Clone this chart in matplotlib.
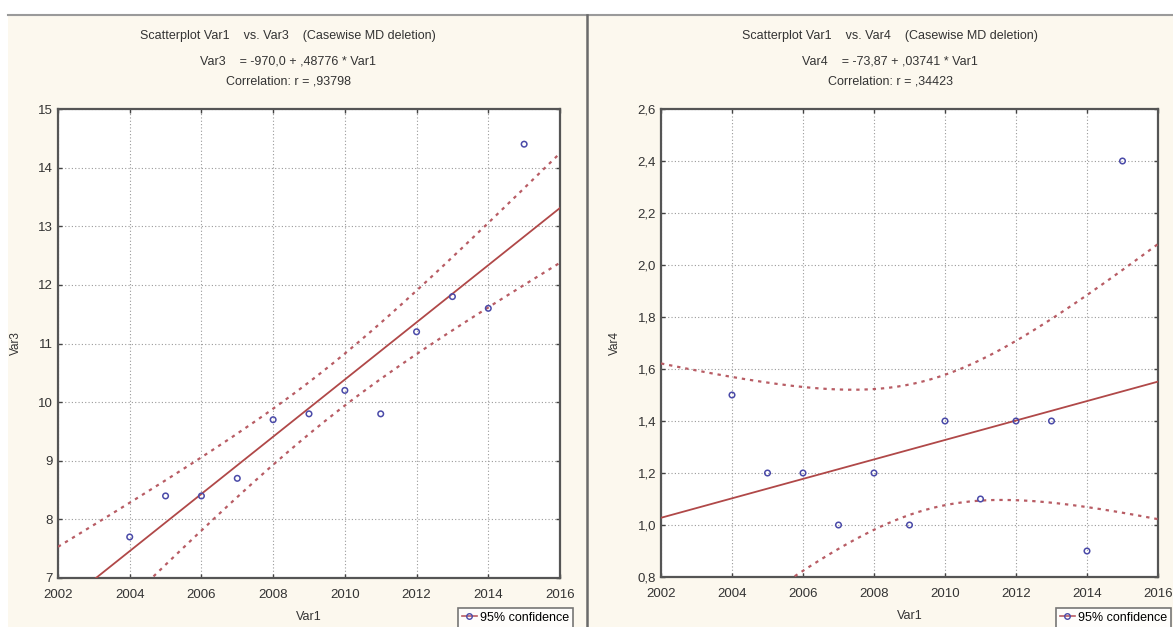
import numpy as np
import matplotlib
matplotlib.use("Agg")
import matplotlib.pyplot as plt
from matplotlib.patches import Rectangle
from matplotlib.lines import Line2D
from matplotlib.ticker import FuncFormatter

# data
years = [2004, 2005, 2006, 2007, 2008, 2009, 2010, 2011, 2012, 2013, 2014, 2015]
var3 = [7.7, 8.4, 8.4, 8.7, 9.7, 9.8, 10.2, 9.8, 11.2, 11.8, 11.6, 14.4]
var4 = [1.5, 1.2, 1.2, 1.0, 1.2, 1.0, 1.4, 1.1, 1.4, 1.4, 0.9, 2.4]

titles_left = ["Scatterplot Var1    vs. Var3    (Casewise MD deletion)",
               "Var3    = -970,0 + ,48776 * Var1",
               "Correlation: r = ,93798"]
titles_right = ["Scatterplot Var1    vs. Var4    (Casewise MD deletion)",
                "Var4    = -73,87 + ,03741 * Var1",
                "Correlation: r = ,34423"]

x_ticks = [2002, 2004, 2006, 2008, 2010, 2012, 2014, 2016]
y3_ticks = [7, 8, 9, 10, 11, 12, 13, 14, 15]
y4_ticks = [0.8, 1.0, 1.2, 1.4, 1.6, 1.8, 2.0, 2.2, 2.4, 2.6]

T_CRIT = 2.228  # t(0.975, df=10)

plt.rcParams['font.family'] = ['Liberation Sans', 'DejaVu Sans']

W, H = 1173, 627
fig = plt.figure(figsize=(W / 100, H / 100), dpi=100)
fig.patch.set_facecolor('white')

# cream background panel and frame lines
fig.patches.append(Rectangle((8 / W, 0), 1 - 8 / W, 1 - 15 / H, transform=fig.transFigure,
                             facecolor='#fcf8ee', edgecolor='none', zorder=-5))
fig.add_artist(Line2D([8 / W, 1], [1 - 15 / H, 1 - 15 / H], color='#9a9a9a', lw=1.5))
fig.add_artist(Line2D([587 / W, 587 / W], [0, 1 - 15 / H], color='#6a6a6a', lw=1.8))


def px_rect(x0, y0, x1, y1):
    return [x0 / W, 1 - y1 / H, (x1 - x0) / W, (y1 - y0) / H]


def comma(v, pos):
    return f"{v:.1f}".replace('.', ',')


def draw_panel(rect, y, yticks, ylim, ylabel, titles, title_x, legend_x, fmt=None):
    ax = fig.add_axes(rect)
    ax.set_facecolor('white')
    x = np.array(years, dtype=float)
    yv = np.array(y, dtype=float)

    slope, icpt = np.polyfit(x, yv, 1)
    n = len(x)
    resid = yv - (icpt + slope * x)
    s = np.sqrt(np.sum(resid ** 2) / (n - 2))
    sxx = np.sum((x - x.mean()) ** 2)
    xs = np.linspace(2002, 2016, 200)
    fit = icpt + slope * xs
    half = T_CRIT * s * np.sqrt(1 / n + (xs - x.mean()) ** 2 / sxx)

    band_col = '#b85c64'
    ax.plot(xs, fit + half, color=band_col, lw=1.6, linestyle=(0, (1.5, 2.2)), zorder=3)
    ax.plot(xs, fit - half, color=band_col, lw=1.6, linestyle=(0, (1.5, 2.2)), zorder=3)
    ax.plot(xs, fit, color='#b04848', lw=1.3, zorder=4)
    ax.scatter(x, yv, s=16, facecolors='none', edgecolors='#4a4aa8', linewidths=1.1, zorder=5)

    ax.set_xlim(2002, 2016)
    ax.set_ylim(*ylim)
    ax.set_xticks(x_ticks)
    ax.set_yticks(yticks)
    if fmt:
        ax.yaxis.set_major_formatter(FuncFormatter(fmt))
    ax.grid(True, color='#9a9a9a', linestyle=(0, (1, 2)), lw=0.8)
    ax.tick_params(direction='in', length=3, width=1, colors='#444444', labelsize=9.5,
                   labelcolor='#333333', top=True, right=True)
    ax.tick_params(axis='x', pad=8)
    for sp in ax.spines.values():
        sp.set_color('#555555')
        sp.set_linewidth(1.6)
    ax.set_xlabel('Var1', fontsize=9, color='#333333', labelpad=7)
    ax.set_ylabel(ylabel, fontsize=8.5, color='#333333', labelpad=12)

    for t, yy in zip(titles, [36, 61, 82]):
        fig.text(title_x / W, 1 - yy / H, t, ha='center', va='center', fontsize=9, color='#333333')

    h = Line2D([], [], color=band_col, marker='o', markersize=4, markerfacecolor='none',
               markeredgecolor='#4a4aa8', lw=1.2)
    leg = fig.legend([h], ['95% confidence'], loc='upper left',
                     bbox_to_anchor=(legend_x / W, 1 - 608 / H), fontsize=9,
                     frameon=True, fancybox=False, handlelength=1.2, handletextpad=0.3,
                     borderpad=0.3, borderaxespad=0)
    leg.get_frame().set_edgecolor('#555555')
    leg.get_frame().set_linewidth(1.2)
    return ax


draw_panel(px_rect(58, 109, 560, 578), var3, y3_ticks, (7, 15), 'Var3',
           titles_left, 288, 458)
draw_panel(px_rect(661, 109, 1158, 577), var4, y4_ticks, (0.8, 2.6), 'Var4',
           titles_right, 890, 1056, fmt=comma)

fig.savefig('out.png', dpi=100)
